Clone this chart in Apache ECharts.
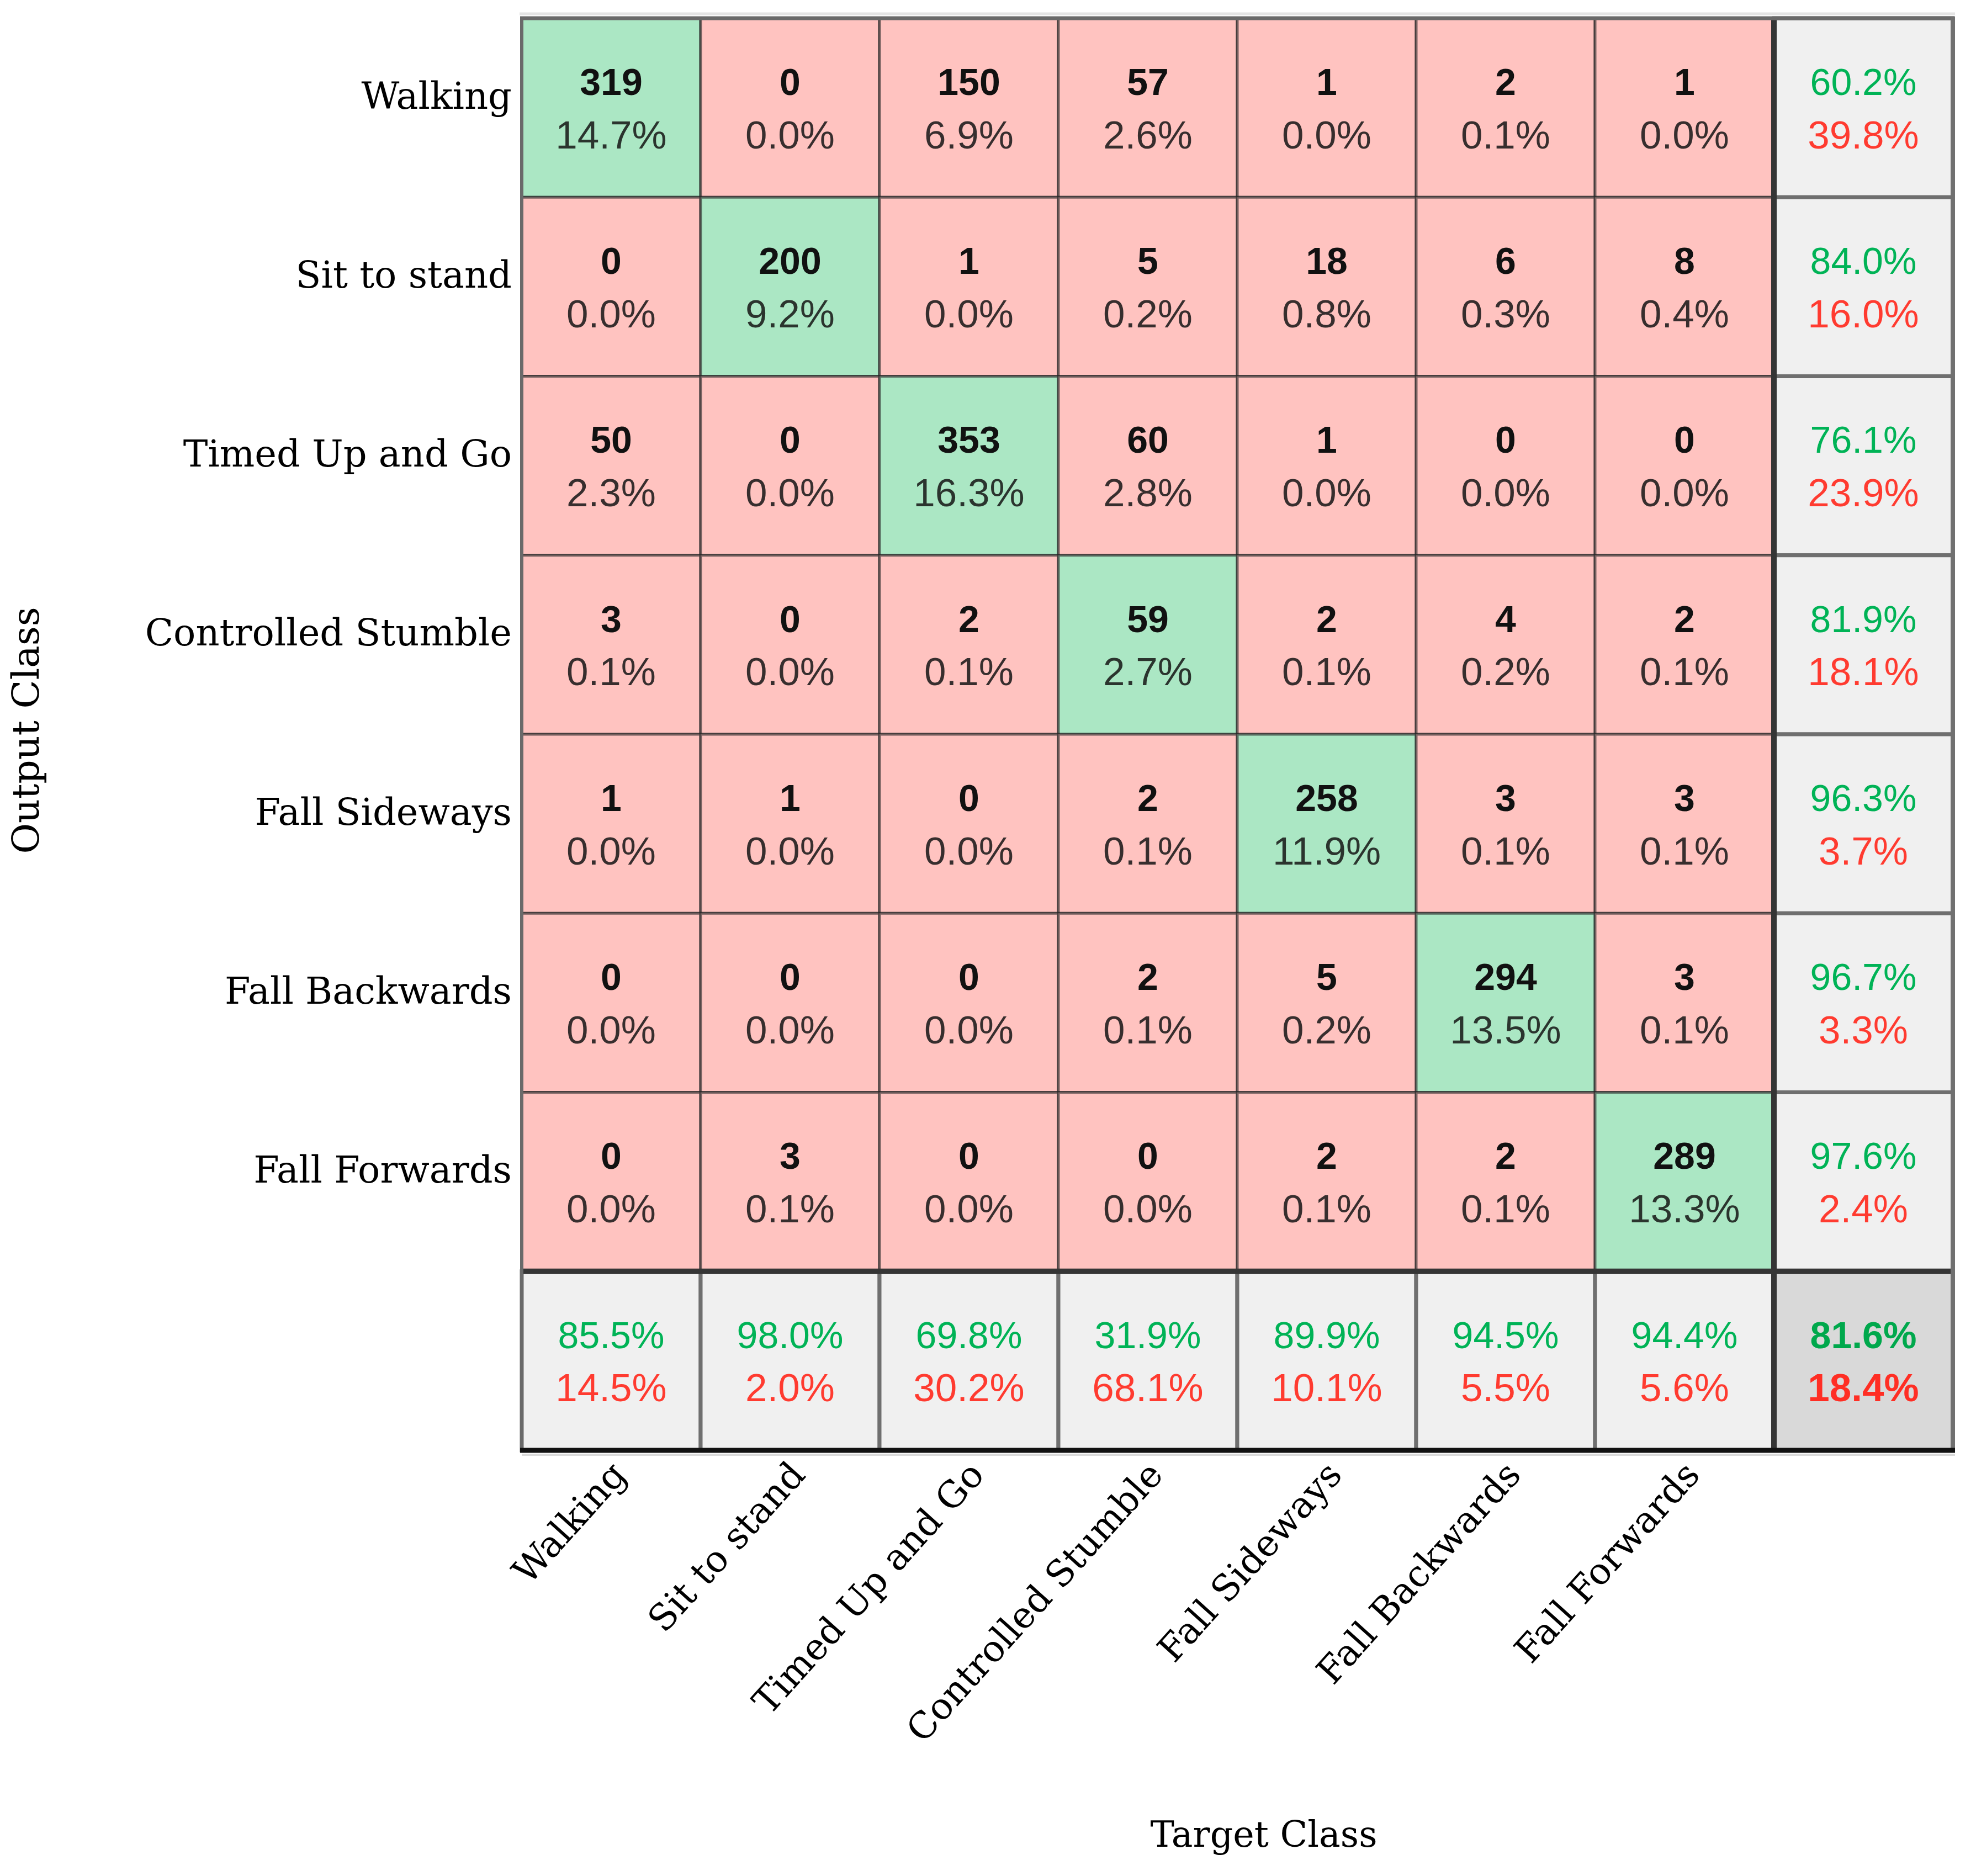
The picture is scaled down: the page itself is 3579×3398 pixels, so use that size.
<!DOCTYPE html>
<html><head><meta charset="utf-8">
<script src="https://cdn.jsdelivr.net/npm/echarts@6/dist/echarts.min.js"></script>
<style>html,body{margin:0;padding:0;background:#fff}#c{width:3579px;height:3398px}</style>
</head><body><div id="c"></div><script>
// ---- data ----
const classes = ['Walking','Sit to stand','Timed Up and Go','Controlled Stumble','Fall Sideways','Fall Backwards','Fall Forwards'];
// rows = Output Class, columns = Target Class
const counts = [
  [319,   0, 150,  57,   1,   2,   1],
  [  0, 200,   1,   5,  18,   6,   8],
  [ 50,   0, 353,  60,   1,   0,   0],
  [  3,   0,   2,  59,   2,   4,   2],
  [  1,   1,   0,   2, 258,   3,   3],
  [  0,   0,   0,   2,   5, 294,   3],
  [  0,   3,   0,   0,   2,   2, 289]
];
const cellPct = [
  ['14.7%','0.0%','6.9%','2.6%','0.0%','0.1%','0.0%'],
  ['0.0%','9.2%','0.0%','0.2%','0.8%','0.3%','0.4%'],
  ['2.3%','0.0%','16.3%','2.8%','0.0%','0.0%','0.0%'],
  ['0.1%','0.0%','0.1%','2.7%','0.1%','0.2%','0.1%'],
  ['0.0%','0.0%','0.0%','0.1%','11.9%','0.1%','0.1%'],
  ['0.0%','0.0%','0.0%','0.1%','0.2%','13.5%','0.1%'],
  ['0.0%','0.1%','0.0%','0.0%','0.1%','0.1%','13.3%']
];
const rowCorrect = ['60.2%','84.0%','76.1%','81.9%','96.3%','96.7%','97.6%'];
const rowWrong   = ['39.8%','16.0%','23.9%','18.1%','3.7%','3.3%','2.4%'];
const colCorrect = ['85.5%','98.0%','69.8%','31.9%','89.9%','94.5%','94.4%'];
const colWrong   = ['14.5%','2.0%','30.2%','68.1%','10.1%','5.5%','5.6%'];
const overallCorrect = '81.6%';
const overallWrong = '18.4%';
const xLabels = classes.concat(['']);
const yLabels = classes.concat(['']);

// ---- styling ----
const GREEN_CELL = '#ABE7C4', RED_CELL = '#FFC3C0', GRAY_CELL = '#F0F0F0', DARK_GRAY_CELL = '#D9D9D9';
const GREEN_TXT = '#00B356', RED_TXT = '#FF3B30';
const NUMFONT = 'Liberation Sans, Arial, sans-serif';
const SERIF = 'DejaVu Serif, serif';
const N = classes.length;

const cells = [];
for (let r = 0; r <= N; r++) for (let c = 0; c <= N; c++) cells.push([c, r]);

function renderCell(params, api) {
  const c = api.value(0), r = api.value(1);
  const p = api.coord([c, r]);
  const s = api.size([1, 1]);
  const w = s[0], h = s[1];
  let fill, stroke, lw, l1, l2, c1, c2, w1, w2;
  if (c < N && r < N) {
    fill = (c === r) ? GREEN_CELL : RED_CELL;
    stroke = 'rgba(40,40,40,0.62)'; lw = 5;
    l1 = String(counts[r][c]); l2 = cellPct[r][c];
    c1 = '#111'; c2 = 'rgba(20,20,20,0.85)'; w1 = 'bold'; w2 = 'normal';
  } else if (c === N && r < N) {
    fill = GRAY_CELL; stroke = '#6f6f6f'; lw = 7;
    l1 = rowCorrect[r]; l2 = rowWrong[r]; c1 = GREEN_TXT; c2 = RED_TXT; w1 = w2 = 'normal';
  } else if (r === N && c < N) {
    fill = GRAY_CELL; stroke = '#6f6f6f'; lw = 7;
    l1 = colCorrect[c]; l2 = colWrong[c]; c1 = GREEN_TXT; c2 = RED_TXT; w1 = w2 = 'normal';
  } else {
    fill = DARK_GRAY_CELL; stroke = '#6f6f6f'; lw = 7;
    l1 = overallCorrect; l2 = overallWrong; c1 = '#00A84C'; c2 = '#FF2E24'; w1 = w2 = 'bold';
  }
  return {
    type: 'group',
    children: [
      { type: 'rect', shape: { x: p[0] - w / 2, y: p[1] - h / 2, width: w, height: h },
        style: { fill: fill, stroke: stroke, lineWidth: lw } },
      { type: 'text', x: p[0], y: p[1] - 42,
        style: { text: l1, fill: c1, fontFamily: NUMFONT, fontSize: 68, fontWeight: w1, align: 'center', verticalAlign: 'middle' } },
      { type: 'text', x: p[0], y: p[1] + 54,
        style: { text: l2, fill: c2, fontFamily: NUMFONT, fontSize: 71, fontWeight: w2, align: 'center', verticalAlign: 'middle' } }
    ]
  };
}

function renderFrame(params, api) {
  const a = api.coord([0, 0]);
  const b = api.coord([N, N]);
  const s = api.size([1, 1]);
  const w = s[0], h = s[1];
  const L = a[0] - w / 2, T = a[1] - h / 2, R = b[0] + w / 2, B = b[1] + h / 2;
  const sx = (api.coord([N - 1, 0])[0] + b[0]) / 2;
  const sy = (api.coord([0, N - 1])[1] + b[1]) / 2;
  const line = (x1, y1, x2, y2, color, width) => ({ type: 'line', shape: { x1, y1, x2, y2 }, style: { stroke: color, lineWidth: width } });
  return {
    type: 'group',
    children: [
      line(L - 4, T - 8, R + 4, T - 8, '#e4e4e4', 5),
      line(L, sy, R, sy, '#353535', 10),
      line(sx, T, sx, B, '#353535', 10),
      line(L - 3, T, R + 3, T, '#6a6a6a', 7),
      line(L, T, L, B, '#6a6a6a', 6),
      line(R, T - 3, R, B, '#707070', 8),
      line(L - 3, B, R + 4, B, '#111111', 9),
      line(L, B + 8, R + 4, B + 8, '#dadada', 4)
    ]
  };
}

const chart = echarts.init(document.getElementById('c'), null, { renderer: 'canvas' });
chart.setOption({
  backgroundColor: '#ffffff',
  animation: false,
  grid: { left: 945, top: 33, width: 2592, height: 2594, containLabel: false },
  xAxis: {
    type: 'category', data: xLabels, position: 'bottom',
    axisLine: { show: false }, axisTick: { show: false }, splitLine: { show: false },
    axisLabel: { rotate: 48, margin: 19, interval: 0, fontFamily: SERIF, fontSize: 66, color: '#000',
      align: 'right', verticalAlign: 'top', lineHeight: 48 }
  },
  yAxis: {
    type: 'category', data: yLabels, inverse: true,
    axisLine: { show: false }, axisTick: { show: false }, splitLine: { show: false },
    axisLabel: { margin: 18, interval: 0, fontFamily: SERIF, fontSize: 67, color: '#000',
      verticalAlign: 'bottom', lineHeight: 32 }
  },
  graphic: [
    { type: 'text', x: 2289, y: 3328, style: { text: 'Target Class', fontFamily: SERIF, fontSize: 65, fill: '#000', align: 'center', verticalAlign: 'middle' } },
    { type: 'text', x: 52, y: 1323, rotation: Math.PI / 2, style: { text: 'Output Class', fontFamily: SERIF, fontSize: 68, fill: '#000', align: 'center', verticalAlign: 'middle' } }
  ],
  series: [
    { type: 'custom', renderItem: renderCell, data: cells, encode: { x: 0, y: 1 }, z: 2, silent: true },
    { type: 'custom', renderItem: renderFrame, data: [[0, 0]], encode: { x: 0, y: 1 }, z: 3, silent: true }
  ]
});
</script></body></html>
